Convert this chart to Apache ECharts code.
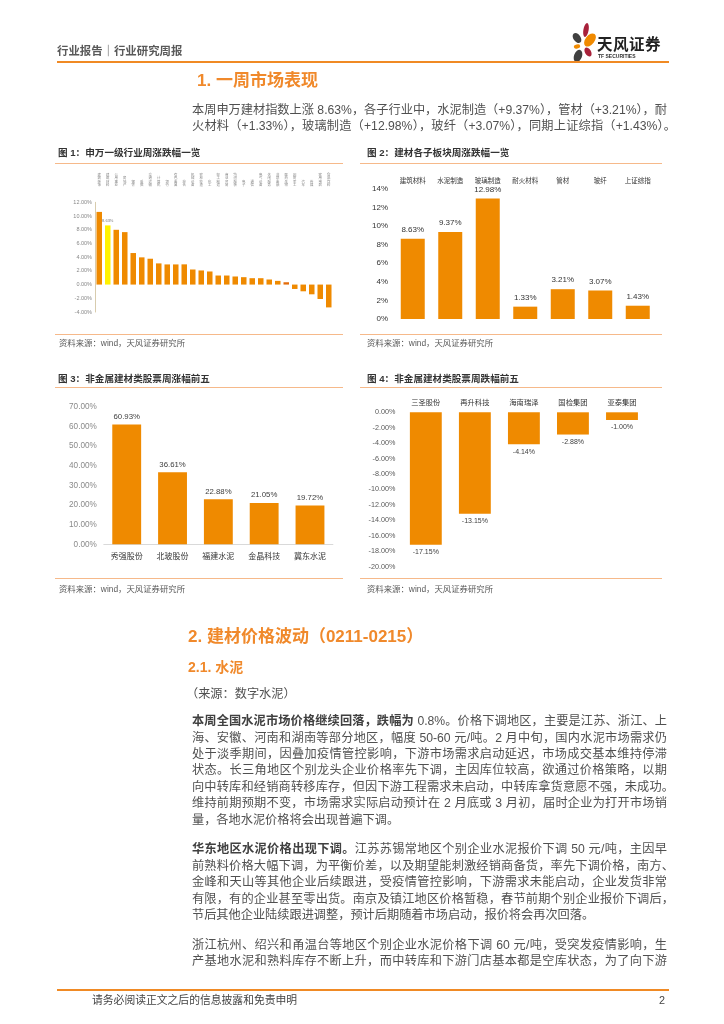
<!DOCTYPE html>
<html lang="zh-CN"><head><meta charset="utf-8">
<script src="https://cdn.jsdelivr.net/npm/echarts@6/dist/echarts.min.js"></script>
<style>
html,body{margin:0;padding:0;background:#fff;width:724px;height:1024px;overflow:hidden;}
body{position:relative;font-family:"Liberation Sans","Noto Sans CJK SC",sans-serif;color:#4d4d4d;}
#chart{position:absolute;left:0;top:0;width:724px;height:1024px;}
.t{position:absolute;white-space:nowrap;height:20px;line-height:20px;}
.ln{position:absolute;left:192px;width:475px;height:20px;line-height:20px;font-size:12.2px;white-space:nowrap;text-align:justify;text-align-last:justify;color:#505050;}
.ln.last{text-align-last:left;}
.h1{font-size:17px;font-weight:bold;color:#F0892B;}
.ct{font-size:9.6px;font-weight:bold;color:#333;left:58px;}
.src{font-size:8.4px;color:#595959;}
.rule{position:absolute;height:1.5px;background:#F6B98A;}
b{font-weight:bold;color:#404040;}
</style></head>
<body>
<div id="chart"></div>

<!-- header -->
<div class="t" style="left:57px;top:41px;font-size:11.4px;font-weight:bold;color:#595959;">行业报告｜行业研究周报</div>
<svg style="position:absolute;left:570px;top:23px;" width="28" height="42" viewBox="0 0 28 42">
  <ellipse cx="16" cy="7" rx="2.6" ry="7" fill="#A8213A" transform="rotate(10 16 7)"/>
  <ellipse cx="7" cy="15" rx="3.6" ry="5.6" fill="#404040" transform="rotate(-35 7 15)"/>
  <ellipse cx="20" cy="17" rx="4.6" ry="7.5" fill="#F08A00" transform="rotate(38 20 17)"/>
  <ellipse cx="7" cy="23.5" rx="3.2" ry="2" fill="#F08A00" transform="rotate(-15 7 23.5)"/>
  <ellipse cx="18" cy="29" rx="3" ry="5" fill="#A8213A" transform="rotate(-30 18 29)"/>
  <ellipse cx="8" cy="33" rx="4" ry="6.5" fill="#404040" transform="rotate(20 8 33)"/>
</svg>
<div class="t" style="left:597px;top:35px;font-size:15.5px;font-weight:bold;color:#222;letter-spacing:0.5px;">天风证券</div>
<div class="t" style="left:598px;top:46px;font-size:5px;font-weight:bold;color:#333;">TF SECURITIES</div>
<div class="rule" style="left:57px;top:61px;width:612px;height:2px;background:#F08A24;"></div>

<div class="t h1" style="left:197px;top:71px;">1. 一周市场表现</div>
<div class="ln" style="top:99.5px;">本周申万建材指数上涨 8.63%，各子行业中，水泥制造（+9.37%），管材（+3.21%），耐</div>
<div class="ln" style="top:116px;width:484px;">火材料（+1.33%），玻璃制造（+12.98%），玻纤（+3.07%），同期上证综指（+1.43%）。</div>

<!-- chart titles -->
<div class="t ct" style="top:143px;">图 1：申万一级行业周涨跌幅一览</div>
<div class="rule" style="left:55px;top:162.5px;width:288px;"></div>
<div class="t ct" style="left:367px;top:143px;">图 2：建材各子板块周涨跌幅一览</div>
<div class="rule" style="left:360px;top:162.5px;width:302px;"></div>
<div class="rule" style="left:55px;top:333.5px;width:288px;"></div>
<div class="t src" style="left:59px;top:333px;">资料来源：wind，天风证券研究所</div>
<div class="rule" style="left:360px;top:333.5px;width:302px;"></div>
<div class="t src" style="left:367px;top:333px;">资料来源：wind，天风证券研究所</div>

<div class="t ct" style="top:369px;">图 3：非金属建材类股票周涨幅前五</div>
<div class="rule" style="left:55px;top:386.5px;width:288px;"></div>
<div class="t ct" style="left:367px;top:369px;">图 4：非金属建材类股票周跌幅前五</div>
<div class="rule" style="left:360px;top:386.5px;width:302px;"></div>
<div class="rule" style="left:55px;top:577.5px;width:288px;"></div>
<div class="t src" style="left:59px;top:579px;">资料来源：wind，天风证券研究所</div>
<div class="rule" style="left:360px;top:577.5px;width:302px;"></div>
<div class="t src" style="left:367px;top:579px;">资料来源：wind，天风证券研究所</div>

<!-- section 2 -->
<div class="t h1" style="left:188px;top:626.7px;">2. 建材价格波动（0211-0215）</div>
<div class="t h1" style="left:188px;top:656.7px;font-size:14px;">2.1. 水泥</div>
<div class="t" style="left:186px;top:684.3px;font-size:12.2px;color:#505050;">（来源：数字水泥）</div>

<div class="ln" style="top:711px;"><b>本周全国水泥市场价格继续回落，跌幅为</b> 0.8%。价格下调地区，主要是江苏、浙江、上</div>
<div class="ln" style="top:727.5px;">海、安徽、河南和湖南等部分地区，幅度 50-60 元/吨。2 月中旬，国内水泥市场需求仍</div>
<div class="ln" style="top:743.9px;">处于淡季期间，因叠加疫情管控影响，下游市场需求启动延迟，市场成交基本维持停滞</div>
<div class="ln" style="top:760.4px;">状态。长三角地区个别龙头企业价格率先下调，主因库位较高，欲通过价格策略，以期</div>
<div class="ln" style="top:776.8px;width:482px;">向中转库和经销商转移库存，但因下游工程需求未启动，中转库拿货意愿不强，未成功。</div>
<div class="ln" style="top:793.3px;">维持前期预期不变，市场需求实际启动预计在 2 月底或 3 月初，届时企业为打开市场销</div>
<div class="ln last" style="top:809.7px;">量，各地水泥价格将会出现普遍下调。</div>

<div class="ln" style="top:839.4px;"><b>华东地区水泥价格出现下调。</b>江苏苏锡常地区个别企业水泥报价下调 50 元/吨，主因早</div>
<div class="ln" style="top:855.8px;width:482px;">前熟料价格大幅下调，为平衡价差，以及期望能刺激经销商备货，率先下调价格，南方、</div>
<div class="ln" style="top:872.2px;">金峰和天山等其他企业后续跟进，受疫情管控影响，下游需求未能启动，企业发货非常</div>
<div class="ln" style="top:888.6px;width:482px;">有限，有的企业甚至零出货。南京及镇江地区价格暂稳，春节前期个别企业报价下调后，</div>
<div class="ln last" style="top:905px;">节后其他企业陆续跟进调整，预计后期随着市场启动，报价将会再次回落。</div>

<div class="ln" style="top:934.5px;">浙江杭州、绍兴和甬温台等地区个别企业水泥价格下调 60 元/吨，受突发疫情影响，生</div>
<div class="ln" style="top:951px;">产基地水泥和熟料库存不断上升，而中转库和下游门店基本都是空库状态，为了向下游</div>

<!-- footer -->
<div class="rule" style="left:57px;top:988.5px;width:612px;height:2px;background:#F08A24;"></div>
<div class="t" style="left:92px;top:990px;font-size:10.8px;color:#444;">请务必阅读正文之后的信息披露和免责申明</div>
<div class="t" style="left:659px;top:990px;font-size:10.8px;color:#444;">2</div>

<script>
// ---- data ----
const c1Cats = ['建筑装饰','建筑材料','公用事业','房地产','钢铁','采掘','交通运输','计算机','银行','有色金属','综合','机械设备','农林牧渔','化工','轻工制造','商业贸易','纺织服装','电子','通信','电气设备','休闲服务','非银金融','医药生物','国防军工','汽车','传媒','家用电器','食品饮料'];
const c1Vals = [10.6,8.63,7.99,7.65,4.6,3.97,3.77,3.09,2.94,2.94,2.95,2.2,2.06,1.91,1.32,1.32,1.18,1.08,0.93,0.93,0.74,0.54,0.34,-0.64,-0.98,-1.42,-2.1,-3.33];
const c1Ticks = [-4,12,2];

const c2Cats = ['建筑材料','水泥制造','玻璃制造','耐火材料','管材','玻纤','上证综指'];
const c2Vals = [8.63,9.37,12.98,1.33,3.21,3.07,1.43];

const c3Cats = ['秀强股份','北玻股份','福建水泥','金晶科技','冀东水泥'];
const c3Vals = [60.93,36.61,22.88,21.05,19.72];

const c4Cats = ['三圣股份','再升科技','海南瑞泽','国检集团','亚泰集团'];
const c4Vals = [-17.15,-13.15,-4.14,-2.88,-1.00];

const ORANGE = '#EF8A00';
const F = '"Liberation Sans","Noto Sans CJK SC",sans-serif';
const pct2 = v => v.toFixed(2) + '%';

const chart = echarts.init(document.getElementById('chart'), null, {renderer:'canvas'});
const option = {
  animation:false,
  textStyle:{fontFamily:F},
  grid:[
    {left:95, top:202.3, width:238, height:109.7},
    {left:394, top:189, width:262.5, height:130},
    {left:103.8, top:406.7, width:229.1, height:137.6},
    {left:401.3, top:412.3, width:245.2, height:154.4}
  ],
  xAxis:[
    {type:'category', gridIndex:0, data:c1Cats, position:'top',
     axisLine:{show:false,onZero:false}, axisTick:{show:false},
     axisLabel:{interval:0, margin:15, fontSize:3.4, lineHeight:3.5, color:'#888', fontFamily:F,
       formatter: v => v.split('').join('\n')}},
    {type:'category', gridIndex:1, data:c2Cats, position:'top',
     axisLine:{show:false,onZero:false}, axisTick:{show:false},
     axisLabel:{interval:0, margin:5, fontSize:6.5, color:'#333', fontFamily:F}},
    {type:'category', gridIndex:2, data:c3Cats,
     axisLine:{show:true, lineStyle:{color:'#D9D9D9', width:1}}, axisTick:{show:false},
     axisLabel:{interval:0, margin:8, fontSize:8, color:'#333', fontFamily:F}},
    {type:'category', gridIndex:3, data:c4Cats, position:'top',
     axisLine:{show:false,onZero:false}, axisTick:{show:false},
     axisLabel:{interval:0, margin:6, fontSize:7.3, color:'#333', fontFamily:F}}
  ],
  yAxis:[
    {type:'value', gridIndex:0, min:c1Ticks[0], max:c1Ticks[1], interval:c1Ticks[2],
     axisLine:{show:true, lineStyle:{color:'#D8CCAE', width:1}}, axisTick:{show:false}, splitLine:{show:false},
     axisLabel:{margin:3, fontSize:5.5, color:'#888', formatter:pct2}},
    {type:'value', gridIndex:1, min:0, max:14, interval:2,
     axisLine:{show:false}, axisTick:{show:false}, splitLine:{show:false},
     axisLabel:{margin:6, fontSize:8, color:'#333', formatter:'{value}%'}},
    {type:'value', gridIndex:2, min:0, max:70, interval:10,
     axisLine:{show:false}, axisTick:{show:false}, splitLine:{show:false},
     axisLabel:{margin:7, fontSize:8.2, color:'#8a8a8a', formatter:pct2}},
    {type:'value', gridIndex:3, min:-20, max:0, interval:2,
     axisLine:{show:false}, axisTick:{show:false}, splitLine:{show:false},
     axisLabel:{margin:6, fontSize:7.2, color:'#595959', formatter:pct2}}
  ],
  series:[
    {type:'bar', xAxisIndex:0, yAxisIndex:0, barWidth:'65%',
     data:c1Vals.map((v,i)=>({value:v,
       itemStyle:{color: i===1 ? '#FFF200' : (i===22 ? '#E46C0A' : ORANGE)},
       label: i===1 ? {show:true, position:'top', distance:3, fontSize:4, color:'#777', formatter:p=>p.value.toFixed(2)+'%'} : {show:false}
     }))},
    {type:'bar', xAxisIndex:1, yAxisIndex:1, barWidth:'64%', itemStyle:{color:ORANGE},
     data:c2Vals,
     label:{show:true, position:'top', distance:5, fontSize:8, color:'#333', formatter:p=>p.value.toFixed(2)+'%'}},
    {type:'bar', xAxisIndex:2, yAxisIndex:2, barWidth:'63%', itemStyle:{color:ORANGE},
     data:c3Vals,
     label:{show:true, position:'top', distance:4, fontSize:7.8, color:'#404040', formatter:p=>p.value.toFixed(2)+'%'}},
    {type:'bar', xAxisIndex:3, yAxisIndex:3, barWidth:'65%', itemStyle:{color:ORANGE},
     data:c4Vals,
     label:{show:true, position:'bottom', distance:4, fontSize:7, color:'#404040', formatter:p=>p.value.toFixed(2)+'%'}}
  ]
};
chart.setOption(option);
</script>
</body></html>
